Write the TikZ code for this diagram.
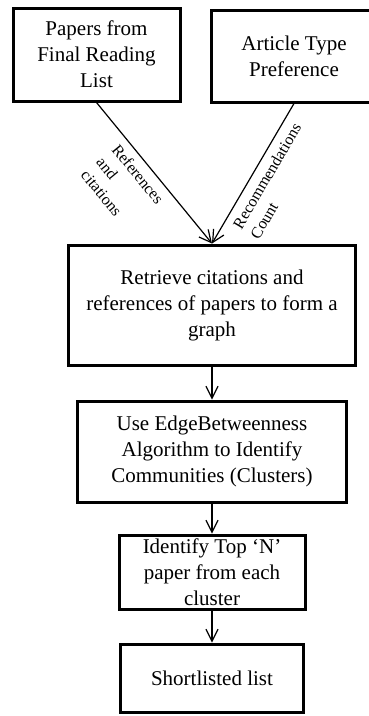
\documentclass[tikz,border=0pt]{standalone}
\usepackage{fontspec}
\setmainfont{Liberation Serif}
\usetikzlibrary{arrows.meta}
\tikzset{procbox/.style = {draw, line width=3pt, align=center, inner sep=0pt, font=\fontsize{21}{26}\selectfont}}
\tikzset{flow/.style = {-{Straight Barb[length=12pt, width=12pt]}, line width=1.2pt}}
\tikzset{flowlabel/.style = {sloped, anchor=north west, align=left, inner xsep=0pt, inner ysep=7pt, font=\fontsize{16}{20}\selectfont}}

\begin{document}
\begin{tikzpicture}[x=1pt, y=-1pt]
\useasboundingbox (0,0) rectangle (369,716);
\node [procbox, minimum width=167pt, minimum height=93pt] (reading) at (96.5,54.5) {Papers from\\Final Reading\\List};
\node [procbox, minimum width=166pt, minimum height=92pt] (pref) at (294,56) {Article Type\\Preference};
\node [procbox, minimum width=287pt, minimum height=120pt] (graph) at (212,305) {Retrieve citations and\\references of papers to form a\\graph};
\node [procbox, minimum width=269pt, minimum height=101pt] (edge) at (212,451.5) {Use EdgeBetweenness\\Algorithm to Identify\\Communities (Clusters)};
\node [procbox, minimum width=186pt, minimum height=74pt] (topn) at (212,572) {Identify Top ‘N’\\paper from each\\cluster};
\node [procbox, minimum width=183pt, minimum height=68pt] (short) at (212,678) {Shortlisted list};
\draw [flow] (reading.south) -- (graph.north) node [flowlabel, pos=0.25] {References\\and\\citations};
\draw [flow] (pref.south) -- (graph.north) node [flowlabel, pos=0.84] {Recommendations\\Count};
\draw [flow] (graph) -- (edge);
\draw [flow] (edge) -- (topn);
\draw [flow] (topn) -- (short);
\end{tikzpicture}
\end{document}
